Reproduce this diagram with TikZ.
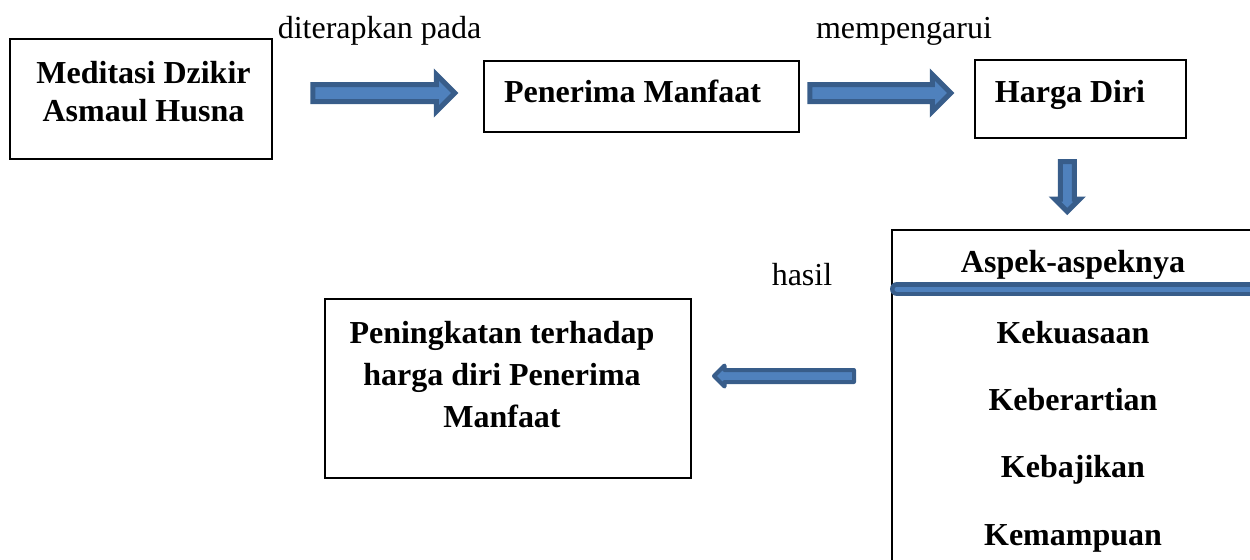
\documentclass[tikz,border=0pt]{standalone}
\usepackage{fontspec}
\setmainfont{Liberation Serif}
\usetikzlibrary{shapes.arrows,calc}

\definecolor{officeblue}{HTML}{4F81BD}
\definecolor{officeline}{HTML}{385D8A}

\tikzset{
    box/.style={draw, line width=1pt, inner sep=0pt},
    boxtext/.style={font=\fontsize{16}{19}\selectfont\bfseries, align=center, inner sep=0pt},
    lbl/.style={font=\fontsize{16}{19}\selectfont, anchor=base, inner sep=0pt},
    blockarrow/.style={single arrow, draw=officeline, fill=officeblue, line width=2.5pt,
        single arrow head extend=5pt, inner sep=3pt, minimum height=71pt},
    thinarrow/.style={single arrow, draw=officeline, fill=officeblue, line width=2pt,
        line join=round, single arrow head extend=2.25pt, inner sep=2pt, minimum height=70pt},
    sepline/.style={draw=officeline, double=officeblue, double distance=2.5pt,
        line width=2.25pt, line cap=round}
}

\begin{document}
\begin{tikzpicture}[x=0.5pt, y=-0.5pt]
                \useasboundingbox (0,0) rectangle (1250,559);
                \clip (0,0) rectangle (1250,559);
                % Boxes and their texts:
                \node[box, minimum width=131pt, minimum height=60pt] (med) at (141,98.5) {};
                \node[boxtext] (medtext) at (143.5,92) {Meditasi Dzikir\\Asmaul Husna};
                \node[box, minimum width=157.5pt, minimum height=35.5pt] (pm) at (641.5,96.5) {};
                \node[boxtext, anchor=base] (pmtext) at (632.5,102) {Penerima Manfaat};
                \node[box, minimum width=105.5pt, minimum height=39pt] (hd) at (1080.5,99) {};
                \node[boxtext, anchor=base] (hdtext) at (1070,102) {Harga Diri};
                \node[box, minimum width=180pt, minimum height=167.5pt] (aspek) at (1072,397.5) {};
                \node[boxtext, anchor=base] (asphead) at (1073,272) {Aspek-aspeknya};
                \foreach \aspname/\yy [count=\i] in {Kekuasaan/343, Keberartian/410, Kebajikan/477, Kemampuan/545}
                    \node[boxtext, anchor=base] (asp\i) at (1073,\yy) {\aspname};
                \node[box, minimum width=183pt, minimum height=89.5pt] (hasilbox) at (508,388.5) {};
                \node[boxtext, font=\fontsize{16}{21}\selectfont\bfseries] (hasiltext) at (502,375)
                    {Peningkatan terhadap\\harga diri Penerima\\Manfaat};
                % Separator under the heading:
                \coordinate (sepL) at (897,289);
                \coordinate (sepR) at (1260,289);
                \draw[sepline] (sepL) -- (sepR);
                % Labels:
                \node[lbl] (lbl1) at (379.5,38) {diterapkan pada};
                \node[lbl] (lbl2) at (904,38) {mempengarui};
                \node[lbl] (lbl3) at (802,285) {hasil};
                % Arrows:
                \node[blockarrow] (arr1) at ($(med.east)!0.5!(pm.west)+(1.5,-4.5)$) {};
                \node[blockarrow, minimum height=70.5pt] (arr2) at ($(pm.east)!0.5!(hd.west)+(-11,-4.75)$) {};
                \node[blockarrow, rotate=-90, minimum height=25pt, inner sep=2.25pt,
                    single arrow head extend=2.75pt] (arr3) at ($(hd.south)!0.5!(aspek.north)+(-9,-1)$) {};
                \node[thinarrow, rotate=180] (arr4) at ($(aspek.west)!0.5!(hasilbox.east)+(-4.5,-17)$) {};
            \end{tikzpicture}
\end{document}
